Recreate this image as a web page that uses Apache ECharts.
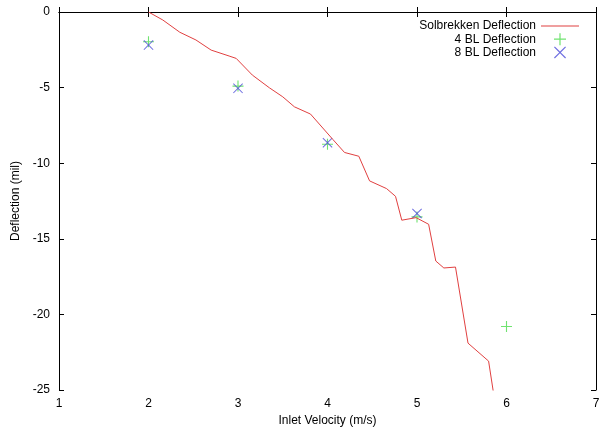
<!DOCTYPE html>
<html>
<head>
<meta charset="utf-8">
<script src="https://cdn.jsdelivr.net/npm/echarts@6/dist/echarts.min.js"></script>
<style>
  html, body { margin: 0; padding: 0; background: #fff; }
  #main { width: 603px; height: 434px; }
</style>
</head>
<body>
<div id="main"></div>
<script>
// Solbrekken curve: [velocity, deflection]
var solbrekken = [
  [2.00, 0.00], [2.16, -0.53], [2.35, -1.34], [2.53, -1.85], [2.70, -2.52],
  [2.90, -2.91], [2.98, -3.07], [3.16, -4.17], [3.35, -5.01], [3.50, -5.61],
  [3.63, -6.27], [3.81, -6.75], [4.06, -8.43], [4.19, -9.29], [4.35, -9.54],
  [4.47, -11.17], [4.66, -11.68], [4.76, -12.19], [4.83, -13.77], [4.99, -13.60],
  [5.13, -14.04], [5.21, -16.47], [5.30, -16.93], [5.43, -16.87], [5.57, -21.90],
  [5.80, -23.09], [5.86, -25.40]
]
var velocity4 = [2, 3, 4, 5, 6]
var deflect4 = [-1.97, -4.90, -8.75, -13.55, -20.80]
var velocity8 = [2, 3, 4, 5]
var deflect8 = [-2.19, -5.05, -8.65, -13.33]

var pairs = function(xs, ys) {
  var out = []
  for (var i = 0; i < xs.length; i++) {
    out.push([xs[i], ys[i]])
  }
  return out
}

var plus = 'path://M4.5,0h1v4.5h4.5v1h-4.5v4.5h-1v-4.5h-4.5v-1h4.5z'
var cross = 'path://M0,0.7L0.7,0L5,4.3L9.3,0L10,0.7L5.7,5L10,9.3L9.3,10L5,5.7L0.7,10L0,9.3L4.3,5z'
var dash = 'path://M0,0h40v1h-40z'
var font = 'Liberation Sans, Arial, sans-serif'

var myChart = echarts.init(document.querySelector('#main'))

var option = {
  animation: false,
  grid: { left: 59, right: 7, top: 12, bottom: 44 },
  legend: {
    orient: 'vertical',
    right: 19,
    top: 15,
    align: 'right',
    itemWidth: 38,
    itemHeight: 12,
    itemGap: 1.2,
    symbolKeepAspect: true,
    textStyle: { fontFamily: font, fontSize: 12, color: '#000' },
    data: [
      { name: 'Solbrekken Deflection', icon: dash },
      { name: '4 BL Deflection', icon: plus },
      { name: '8 BL Deflection', icon: cross }
    ]
  },
  xAxis: [{
    type: 'value',
    min: 1, max: 7, interval: 1,
    name: 'Inlet Velocity (m/s)',
    nameLocation: 'middle',
    nameGap: 21,
    nameTextStyle: { fontFamily: font, fontSize: 12, color: '#000' },
    axisLine: { lineStyle: { color: '#000', width: 1 } },
    axisTick: { inside: true, length: 5, lineStyle: { color: '#000' } },
    axisLabel: { fontFamily: font, fontSize: 12, color: '#000', margin: 8 },
    splitLine: { show: false }
  }, {
    type: 'value',
    position: 'top',
    min: 1, max: 7, interval: 1,
    axisLine: { lineStyle: { color: '#000', width: 1 } },
    axisTick: { inside: true, length: 5, lineStyle: { color: '#000' } },
    axisLabel: { show: false },
    splitLine: { show: false }
  }],
  yAxis: [{
    type: 'value',
    min: -25, max: 0, interval: 5,
    name: 'Deflection (mil)',
    nameLocation: 'middle',
    nameGap: 33,
    nameTextStyle: { fontFamily: font, fontSize: 12, color: '#000' },
    axisLine: { lineStyle: { color: '#000', width: 1 } },
    axisTick: { inside: true, length: 5, lineStyle: { color: '#000' } },
    axisLabel: { fontFamily: font, fontSize: 12, color: '#000', margin: 9 },
    splitLine: { show: false }
  }, {
    type: 'value',
    position: 'right',
    min: -25, max: 0, interval: 5,
    axisLine: { show: true, lineStyle: { color: '#000', width: 1 } },
    axisTick: { show: true, inside: true, length: 5, lineStyle: { color: '#000' } },
    axisLabel: { show: false },
    splitLine: { show: false }
  }],
  series: [{
    name: 'Solbrekken Deflection',
    type: 'line',
    symbol: 'none',
    clip: true,
    data: solbrekken,
    lineStyle: { color: '#e04040', width: 1 },
    itemStyle: { color: '#e04040' }
  }, {
    name: '4 BL Deflection',
    type: 'scatter',
    symbol: plus,
    symbolSize: 11,
    symbolKeepAspect: true,
    data: pairs(velocity4, deflect4),
    itemStyle: { color: '#4cdc4c' }
  }, {
    name: '8 BL Deflection',
    type: 'scatter',
    symbol: cross,
    symbolSize: 10,
    symbolKeepAspect: true,
    data: pairs(velocity8, deflect8),
    itemStyle: { color: '#4a4ad8' }
  }]
}

myChart.setOption(option)
</script>
</body>
</html>
